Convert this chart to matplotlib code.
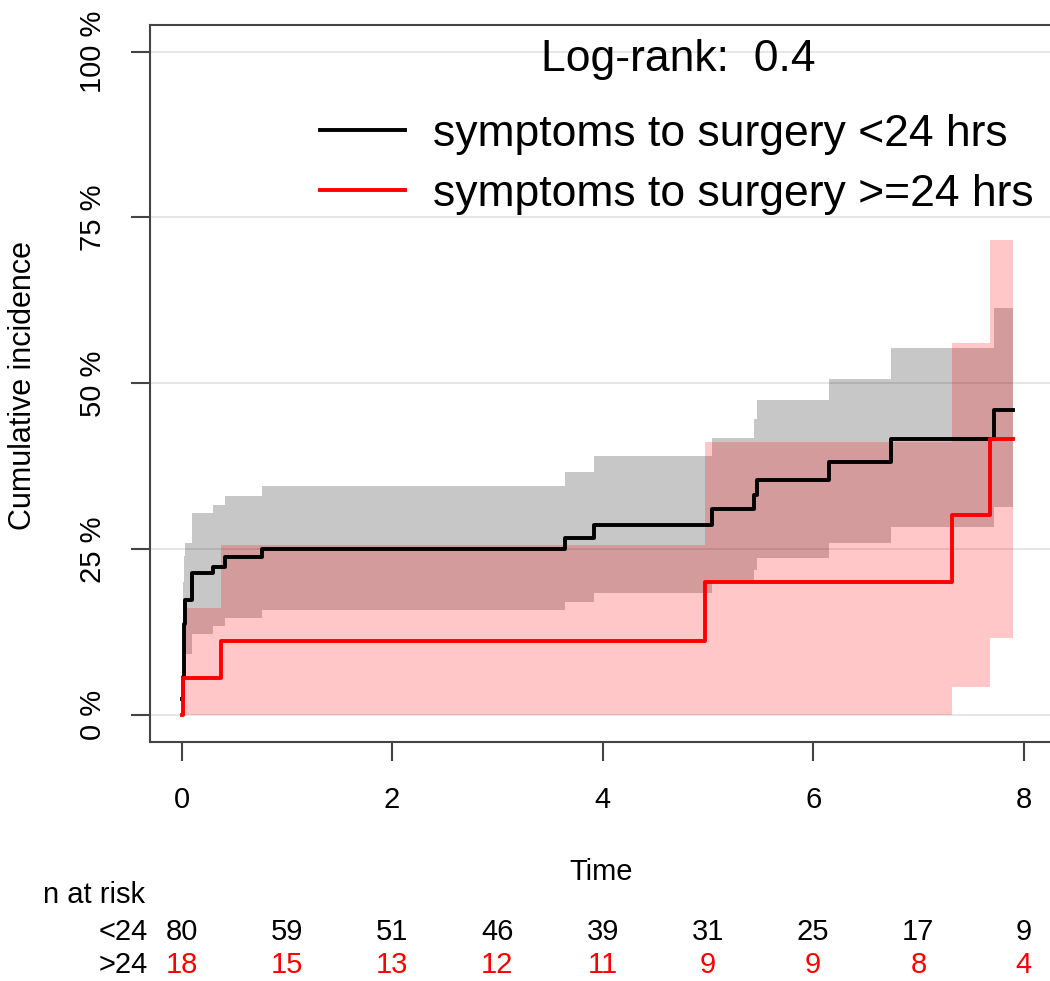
import matplotlib
matplotlib.use("Agg")
import matplotlib.pyplot as plt
from matplotlib.transforms import blended_transform_factory

plt.rcParams['font.family'] = ['Liberation Sans', 'DejaVu Sans']

# cumulative incidence, symptoms to surgery <24 hrs (percent)
black_t = [0, 0.01, 0.02, 0.03, 0.1, 0.3, 0.41, 0.76, 3.64, 3.92, 5.04, 5.44, 5.47, 6.15, 6.74, 7.72, 7.90]
black_est = [2.5, 5.7, 13.7, 17.4, 21.4, 22.3, 23.8, 25.0, 26.7, 28.7, 31.0, 33.2, 35.5, 38.2, 41.6, 46.0, 46.0]
black_upper = [2.5, 20.0, 24.0, 26.0, 30.5, 31.7, 33.1, 34.6, 36.6, 39.0, 41.8, 44.7, 47.5, 50.7, 55.3, 61.3, 61.3]
black_lower = [2.5, 3.0, 7.0, 9.2, 12.2, 13.4, 14.7, 15.8, 17.0, 18.4, 20.4, 21.8, 23.7, 26.0, 28.3, 31.3, 31.3]

# symptoms to surgery >=24 hrs
red_t = [0, 0.01, 0.37, 4.97, 7.32, 7.68, 7.90]
red_est = [0, 5.6, 11.1, 20.0, 30.1, 41.6, 41.6]
red_upper = [0, 16.2, 25.6, 41.2, 56.1, 71.6, 71.6]
red_lower = [0, 0, 0, 0, 4.2, 11.7, 11.7]

yticks = [0, 25, 50, 75, 100]
xticks = [0, 2, 4, 6, 8]
risk_times = [0, 1, 2, 3, 4, 5, 6, 7, 8]
risk_lt24 = [80, 59, 51, 46, 39, 31, 25, 17, 9]
risk_gt24 = [18, 15, 13, 12, 11, 9, 9, 8, 4]

W, H = 1050, 981
fig = plt.figure(figsize=(W / 100, H / 100), dpi=100)
ax = fig.add_axes([150 / W, 1 - 741.7 / H, 1 - 150 / W, (741.7 - 25) / H])

ax.fill_between(black_t, black_lower, black_upper, step='post', color='black', alpha=0.22, linewidth=0)
ax.fill_between(red_t, red_lower, red_upper, step='post', color='red', alpha=0.22, linewidth=0)
ax.step(black_t, black_est, where='post', color='black', lw=2.8,
        label='symptoms to surgery <24 hrs')
ax.step(red_t, red_est, where='post', color='red', lw=2.8,
        label='symptoms to surgery >=24 hrs')

ax.set_xlim(-0.30, 8.25)
ax.set_ylim(-4, 104)
ax.set_yticks(yticks)
ax.set_yticklabels([f"{v} %" for v in yticks], rotation=90, va='center')
ax.set_xticks(xticks)
ax.grid(axis='y', color='#e2e2e2', lw=1.2)
ax.set_axisbelow(True)
for s in ['left', 'bottom', 'top']:
    ax.spines[s].set_color('#444444')
    ax.spines[s].set_linewidth(1.5)
ax.spines['right'].set_visible(False)
ax.tick_params(axis='both', direction='out', length=14, width=1.5, color='#444444', labelsize=21)
ax.tick_params(axis='x', pad=18)
ax.tick_params(axis='y', pad=17)

fig.text(23 / W, 1 - 386 / H, 'Cumulative incidence', rotation=90, ha='center', va='center', fontsize=22)
fig.text(601 / W, 1 - 880 / H, 'Time', ha='center', va='baseline', fontsize=21)

ax.text(678 / W, 1 - 71 / H, 'Log-rank:  0.4', transform=fig.transFigure, ha='center', va='baseline', fontsize=32)

ax.legend(loc='upper left', bbox_to_anchor=(320 / W, 1 - 114 / H), bbox_transform=fig.transFigure,
          frameon=False, fontsize=32, handlelength=1.91, handletextpad=0.63,
          borderpad=0, borderaxespad=0, labelspacing=0.42)

# number at risk table
tr = blended_transform_factory(ax.transData, fig.transFigure)
fig.text(43 / W, 1 - 903 / H, 'n at risk', ha='left', va='baseline', fontsize=21)
fig.text(148 / W, 1 - 940 / H, '<24', ha='right', va='baseline', fontsize=21)
fig.text(148 / W, 1 - 973 / H, '>24', ha='right', va='baseline', fontsize=21)
for t, a, b in zip(risk_times, risk_lt24, risk_gt24):
    ax.text(t, 1 - 940 / H, str(a), transform=tr, ha='center', va='baseline', fontsize=21, color='black', clip_on=False)
    ax.text(t, 1 - 973 / H, str(b), transform=tr, ha='center', va='baseline', fontsize=21, color='red', clip_on=False)

fig.savefig('out.png', dpi=100)
